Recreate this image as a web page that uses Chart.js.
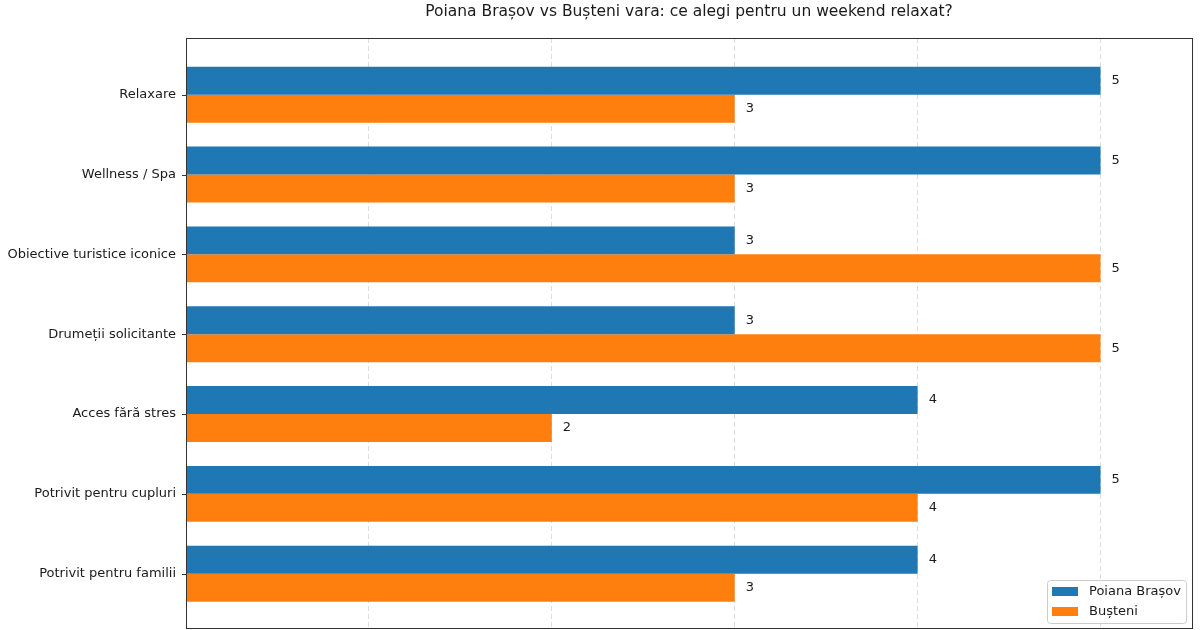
<!DOCTYPE html>
<html><head><meta charset="utf-8">
<script src="https://cdn.jsdelivr.net/npm/chart.js@4"></script>
<style>html,body{margin:0;padding:0;background:#fff}#wrap{width:1200px;height:630px}</style>
</head><body><div id="wrap"><canvas id="c" width="1200" height="630"></canvas></div>
<script>
const categories = ["Relaxare","Wellness / Spa","Obiective turistice iconice","Drumeții solicitante","Acces fără stres","Potrivit pentru cupluri","Potrivit pentru familii"];
const poianaValues = [5,5,3,3,4,5,4];
const busteniValues = [3,3,5,5,2,4,3];
const seriesNames = ["Poiana Brașov","Bușteni"];
const titleText = "Poiana Brașov vs Bușteni vara: ce alegi pentru un weekend relaxat?";
const FONT = "'DejaVu Sans', sans-serif";
const colors = ["#1f77b4","#ff7f0e"];

const toPts = arr => arr.map((v,i)=>({x:v,y:i}));

const extras = {
  id:'extras',
  afterDraw(chart){
    const ctx = chart.ctx, a = chart.chartArea;
    ctx.save();
    ctx.strokeStyle = '#333'; ctx.lineWidth = 1;
    ctx.strokeRect(Math.round(a.left)+0.5, Math.round(a.top)+0.5, Math.round(a.right-a.left), Math.round(a.bottom-a.top));
    const ys = chart.scales.y;
    categories.forEach((c,i)=>{
      const p = Math.round(ys.getPixelForValue(i))+0.5;
      ctx.beginPath(); ctx.moveTo(a.left-4, p); ctx.lineTo(a.left, p); ctx.stroke();
    });
    ctx.fillStyle = '#1a1a1a'; ctx.font = '13px ' + FONT; ctx.textBaseline = 'middle'; ctx.textAlign='left';
    chart.data.datasets.forEach((ds,di)=>{
      chart.getDatasetMeta(di).data.forEach((el,i)=>{
        ctx.fillText(String(ds.data[i].x), el.x + 11, el.y);
      });
    });
    ctx.font = '15.5px ' + FONT; ctx.textAlign='center'; ctx.fillStyle='#1a1a1a';
    ctx.fillText(titleText, (a.left+a.right)/2, 12);
    const lx = 1047, ly = 580, lw = 139, lh = 43;
    ctx.fillStyle = 'rgba(255,255,255,0.8)'; ctx.strokeStyle = '#ccc';
    ctx.beginPath(); ctx.roundRect(lx+0.5, ly+0.5, lw, lh, 3); ctx.fill(); ctx.stroke();
    ctx.font = '13px ' + FONT; ctx.textAlign='left';
    seriesNames.forEach((n,i)=>{
      const cy = 591 + i*20;
      ctx.fillStyle = colors[i]; ctx.fillRect(1052, cy-4, 26, 9);
      ctx.fillStyle = '#1a1a1a'; ctx.fillText(n, 1089, cy+1);
    });
    ctx.restore();
  }
};

new Chart(document.getElementById('c'), {
  type:'bar',
  data:{ datasets:[
    {label:seriesNames[0], data:toPts(poianaValues), backgroundColor:colors[0], categoryPercentage:0.7, barPercentage:1.0},
    {label:seriesNames[1], data:toPts(busteniValues), backgroundColor:colors[1], categoryPercentage:0.7, barPercentage:1.0}
  ]},
  options:{
    indexAxis:'y', responsive:false, animation:false,
    layout:{padding:{top:38,right:8,bottom:2,left:0}},
    plugins:{legend:{display:false}, title:{display:false}, tooltip:{enabled:false}},
    scales:{
      x:{type:'linear', min:0, max:5.5, position:'bottom', offset:false,
        afterBuildTicks:s=>{s.ticks=[0,1,2,3,4,5].map(v=>({value:v}));},
        afterFit:s=>{s.height=0; s.paddingLeft=0; s.paddingRight=0;},
        ticks:{display:false},
        border:{display:false, dash:[5,3]},
        grid:{color:'#dcdcdc', lineWidth:1, drawTicks:false}
      },
      y:{type:'linear', reverse:true, min:-0.71, max:6.68, offset:false,
        afterBuildTicks:s=>{s.ticks=categories.map((c,i)=>({value:i}));},
        afterFit:s=>{s.width=186; s.paddingTop=0; s.paddingBottom=0;},
        ticks:{callback:(v)=>categories[v] ?? '', color:'#1a1a1a', font:{family:FONT,size:13}, padding:2, autoSkip:false},
        grid:{display:false},
        border:{display:false}
      }
    }
  },
  plugins:[extras]
});
</script></body></html>
